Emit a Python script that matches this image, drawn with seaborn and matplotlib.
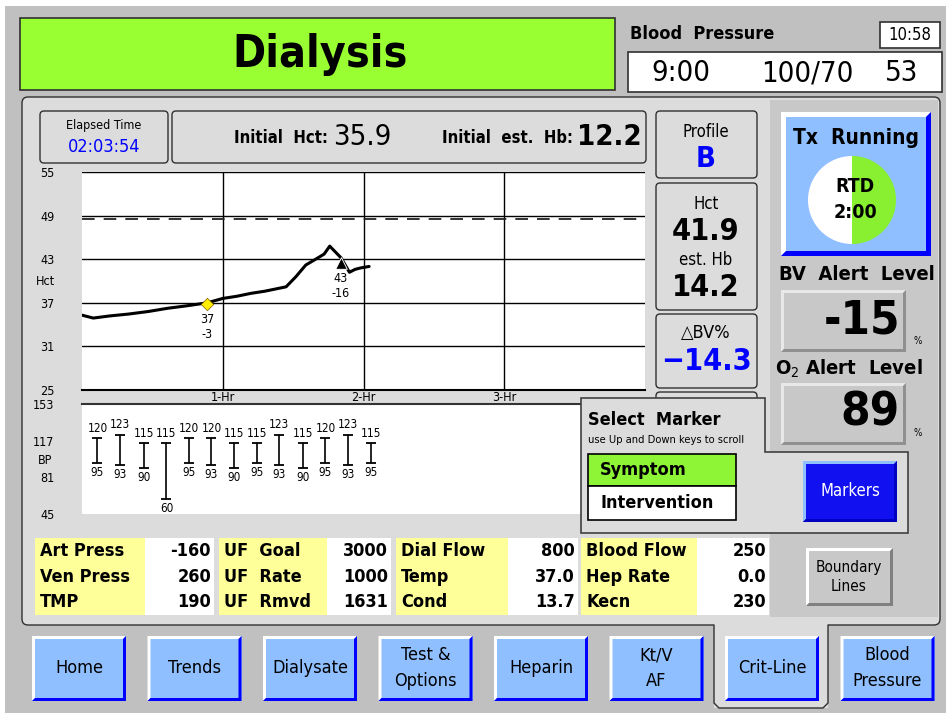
import numpy as np
import pandas as pd
import seaborn as sns
import matplotlib.pyplot as plt
from matplotlib import font_manager as fm
from matplotlib.patches import Rectangle, FancyBboxPatch, Polygon, Wedge

sns.set_style("white")
# the device font is a narrow one; use a condensed face if one is installed
narrow = [f for f in fm.fontManager.ttflist
          if "Narrow" in f.name or "Condensed" in f.name
          or str(f.stretch) in ("condensed", "semi-condensed")]
if narrow:
    plt.rcParams['font.family'] = [narrow[0].name, 'DejaVu Sans']
    plt.rcParams['font.stretch'] = narrow[0].stretch
else:
    plt.rcParams['font.family'] = ['Liberation Sans', 'DejaVu Sans']
plt.rcParams['text.color'] = 'black'
plt.rcParams['xtick.color'] = 'black'
plt.rcParams['ytick.color'] = 'black'

# Hct trend (hours, %)
hct_time = [0.0, 0.08, 0.2, 0.33, 0.47, 0.61, 0.75, 0.89, 1.0, 1.1, 1.2, 1.3,
            1.45, 1.52, 1.59, 1.66, 1.72, 1.76, 1.80, 1.84, 1.90, 1.94, 1.98, 2.04]
hct_vals = [35.3, 34.9, 35.2, 35.45, 35.8, 36.25, 36.6, 37.0, 37.6, 37.9, 38.3, 38.6,
            39.2, 40.6, 42.2, 43.0, 43.7, 44.8, 44.0, 43.2, 41.2, 41.6, 41.8, 42.0]
hct_alert = 48.5
marker_time = [0.89, 1.84]
marker_hct = [36.9, 42.5]
marker_text = ["37\n-3", "43\n-16"]
hct_ticks = [25, 31, 37, 43, 49, 55]
hr_ticks = [1, 2, 3]
hr_labels = ["1-Hr", "2-Hr", "3-Hr"]

# blood pressure readings
bp_time = [0.11, 0.27, 0.44, 0.60, 0.76, 0.92, 1.08, 1.24, 1.40, 1.57, 1.73, 1.89, 2.05]
bp_sys = [120, 123, 115, 115, 120, 120, 115, 115, 123, 115, 120, 123, 115]
bp_dia = [95, 93, 90, 60, 95, 93, 90, 95, 93, 90, 95, 93, 95]
bp_ticks = [45, 81, 117, 153]

# data table
table_labels = [["Art Press", "Ven Press", "TMP"],
                ["UF  Goal", "UF  Rate", "UF  Rmvd"],
                ["Dial Flow", "Temp", "Cond"],
                ["Blood Flow", "Hep Rate", "Kecn"]]
table_values = [["-160", "260", "190"],
                ["3000", "1000", "1631"],
                ["800", "37.0", "13.7"],
                ["250", "0.0", "230"]]
buttons = ["Home", "Trends", "Dialysate", "Test &\nOptions", "Heparin",
           "Kt/V\nAF", "Crit-Line", "Blood\nPressure"]

W, H = 946, 713
fig = plt.figure(figsize=(W / 100, H / 100), dpi=100, facecolor="white")


def frac(x0, y0, x1, y1):
    return [x0 / W, 1 - y1 / H, (x1 - x0) / W, (y1 - y0) / H]


def canvas(z):
    a = fig.add_axes([0, 0, 1, 1], zorder=z)
    a.set_xlim(0, W)
    a.set_ylim(H, 0)
    a.axis("off")
    a.patch.set_alpha(0)
    return a


bg = canvas(0)
top = canvas(5)

GRAY = "#c0c0c0"
PANEL = "#dcdcdc"
DARK = "#303030"
LBLUE = "#8fbfff"
BLUE = "#0000ff"


def rbox(a, x0, y0, x1, y1, fc=PANEL, ec=DARK, lw=1.0, r=4, z=1):
    a.add_patch(FancyBboxPatch((x0, y0), x1 - x0, y1 - y0,
                               boxstyle=f"round,pad=0,rounding_size={r}",
                               fc=fc, ec=ec, lw=lw, zorder=z))


def bevel(a, x0, y0, x1, y1, fc, light, dark, w=3, z=2):
    a.add_patch(Rectangle((x0, y0), x1 - x0, y1 - y0, fc=fc, ec="none", zorder=z))
    a.add_patch(Polygon([(x0, y0), (x1, y0), (x1 - w, y0 + w), (x0 + w, y0 + w),
                         (x0 + w, y1 - w), (x0, y1)], fc=light, ec="none", zorder=z))
    a.add_patch(Polygon([(x1, y1), (x1, y0), (x1 - w, y0 + w), (x1 - w, y1 - w),
                         (x0 + w, y1 - w), (x0, y1)], fc=dark, ec="none", zorder=z))


def txt(a, x, y, s, size, ha="center", va="center", **kw):
    a.text(x, y, s, fontsize=size, ha=ha, va=va, zorder=10, **kw)


# outer background
bg.add_patch(Rectangle((5, 6), W - 5, H - 6, fc=GRAY, ec="none", zorder=0))

# header
bg.add_patch(Rectangle((20, 18), 595, 72, fc="#99ff33", ec=DARK, lw=1.2, zorder=1))
txt(bg, 320, 55, "Dialysis", 32, weight="bold")
txt(bg, 630, 34, "Blood  Pressure", 13, ha="left", weight="bold")
bg.add_patch(Rectangle((880, 22), 60, 26, fc="white", ec=DARK, lw=1.2, zorder=1))
txt(bg, 910, 35, "10:58", 12)
bg.add_patch(Rectangle((628, 52), 314, 40, fc="white", ec=DARK, lw=1.2, zorder=1))
txt(bg, 681, 73, "9:00", 21)
txt(bg, 807, 73, "100/70", 21)
txt(bg, 902, 73, "53", 21)

# main panel + Crit-Line tab
rbox(bg, 22, 97, 940, 625, fc=PANEL, r=6, z=1)
bg.add_patch(Rectangle((714, 619), 114, 89, fc=PANEL, ec="none", zorder=1.1))
bg.plot([714, 714, 719, 823, 828, 828], [625, 703, 708, 708, 703, 625],
        color=DARK, lw=1.0, zorder=1.15)
bg.add_patch(Rectangle((770, 100), 168, 517, fc="#c8c8c8", ec="none", zorder=1.2))

# info boxes
rbox(bg, 40, 111, 168, 163)
txt(bg, 104, 126, "Elapsed Time", 9)
txt(bg, 104, 147, "02:03:54", 13, color=BLUE)
rbox(bg, 172, 111, 646, 163)
txt(bg, 328, 138, "Initial  Hct:", 12, ha="right", weight="bold")
txt(bg, 333, 137, "35.9", 21, ha="left")
txt(bg, 573, 138, "Initial  est.  Hb:", 12, ha="right", weight="bold")
txt(bg, 577, 137, "12.2", 21, ha="left", weight="bold")
rbox(bg, 656, 111, 757, 178)
txt(bg, 706, 132, "Profile", 12)
txt(bg, 706, 159, "B", 21, color=BLUE, weight="bold")
rbox(bg, 656, 183, 757, 310)
txt(bg, 706, 204, "Hct", 12)
txt(bg, 706, 231, "41.9", 22, weight="bold")
txt(bg, 706, 260, "est. Hb", 12)
txt(bg, 706, 287, "14.2", 22, weight="bold")
rbox(bg, 656, 314, 757, 388)
txt(bg, 706, 333, "\u25b3BV%", 13)
txt(bg, 706, 361, "\u221214.3", 22, color=BLUE, weight="bold")
rbox(bg, 656, 392, 757, 440)

# right side: Tx running
bevel(bg, 781, 112, 931, 256, LBLUE, "white", BLUE, w=5)
txt(bg, 856, 138, "Tx  Running", 15, weight="bold")
bg.add_patch(Wedge((852, 200), 44, 90, 270, fc="white", ec="none", zorder=3))
bg.add_patch(Wedge((852, 200), 44, -90, 90, fc="#88f030", ec="none", zorder=3))
txt(bg, 855, 187, "RTD", 14, weight="bold")
txt(bg, 855, 212, "2:00", 14, weight="bold")
txt(bg, 857, 275, "BV  Alert  Level", 14.5, weight="bold")
bevel(bg, 781, 290, 906, 352, "#c8c8c8", "#e8e8e8", "#909090", w=3)
txt(bg, 900, 321, "-15", 34, ha="right", weight="bold")
txt(bg, 918, 341, "%", 7)
txt(bg, 849, 369, "O$_2$ Alert  Level", 14.5, weight="bold")
bevel(bg, 781, 383, 906, 445, "#c8c8c8", "#e8e8e8", "#909090", w=3)
txt(bg, 900, 413, "89", 34, ha="right", weight="bold")
txt(bg, 918, 433, "%", 7)

# data table
table_x = [(35, 145, 214), (219, 327, 391), (396, 508, 578), (581, 697, 769)]
for (x0, xm, x1), labs, vals in zip(table_x, table_labels, table_values):
    bg.add_patch(Rectangle((x0, 538), xm - x0, 77, fc="#ffff99", ec="none", zorder=2))
    bg.add_patch(Rectangle((xm, 538), x1 - xm, 77, fc="white", ec="none", zorder=2))
    for i, (lab, val) in enumerate(zip(labs, vals)):
        y = 551 + i * 25.5
        txt(bg, x0 + 5, y, lab, 13, ha="left", weight="bold")
        txt(bg, x1 - 3, y, val, 13, ha="right", weight="bold")
bevel(bg, 806, 548, 893, 606, "#c8c8c8", "white", "#808080", w=3)
txt(bg, 849, 577, "Boundary\nLines", 11, linespacing=1.4)

# bottom buttons
for i, lab in enumerate(buttons):
    x0 = 32 + i * 115.5
    bevel(bg, x0, 636, x0 + 94, 701, LBLUE, "white", BLUE, w=3)
    txt(bg, x0 + 47, 668, lab, 13, linespacing=1.5)

# Hct chart
ax1 = fig.add_axes(frac(82, 172, 645, 390), zorder=2)
ax1.set_facecolor("white")
df = pd.DataFrame({"t": hct_time, "hct": hct_vals})
sns.lineplot(data=df, x="t", y="hct", ax=ax1, color="black", lw=2.2)
ax1.axhline(hct_alert, color="#222222", lw=1.3, ls=(0, (7, 5)))
sns.scatterplot(x=marker_time[:1], y=marker_hct[:1], ax=ax1, marker="D", s=40,
                color="#ffee00", edgecolor="#806000", zorder=5)
sns.scatterplot(x=marker_time[1:], y=marker_hct[1:], ax=ax1, marker="^", s=70,
                color="black", zorder=5)
for t, v, s in zip(marker_time, marker_hct, marker_text):
    ax1.text(t, v - 1.3, s, ha="center", va="top", fontsize=9, linespacing=1.2)
ax1.set_xlim(0, 4)
ax1.set_ylim(25, 55)
ax1.set_yticks(hct_ticks)
ax1.set_xticks(hr_ticks, hr_labels)
ax1.grid(True, color="black", lw=1.0)
ax1.tick_params(axis="y", length=0, pad=20, labelsize=9)
ax1.tick_params(axis="x", length=0, pad=1, labelsize=9)
ax1.set_xlabel("")
ax1.set_ylabel("")
for s in ["top", "left", "right"]:
    ax1.spines[s].set_visible(False)
ax1.spines["bottom"].set_color("black")
ax1.spines["bottom"].set_linewidth(1.5)
ax1.text(-0.065, 0.50, "Hct", transform=ax1.transAxes, fontsize=9, ha="center", va="center")

# BP chart
ax2 = fig.add_axes(frac(82, 404, 645, 514), zorder=2)
ax2.set_facecolor("white")
ax2.vlines(bp_time, bp_dia, bp_sys, color="black", lw=1.2)
sns.scatterplot(x=bp_time, y=bp_sys, ax=ax2, marker="_", s=50, color="black", linewidth=1.3)
sns.scatterplot(x=bp_time, y=bp_dia, ax=ax2, marker="_", s=50, color="black", linewidth=1.3)
for t, s, d in zip(bp_time, bp_sys, bp_dia):
    ax2.text(t, s + 3, str(s), ha="center", va="bottom", fontsize=8.5)
    ax2.text(t, d - 3, str(d), ha="center", va="top", fontsize=8.5)
ax2.set_xlim(0, 4)
ax2.set_ylim(45, 153)
ax2.set_yticks(bp_ticks)
ax2.set_xticks([])
ax2.tick_params(axis="y", length=0, pad=20, labelsize=9)
for s in ["bottom", "left", "right"]:
    ax2.spines[s].set_visible(False)
ax2.spines["top"].set_color("#333333")
ax2.spines["top"].set_linewidth(1.5)
ax2.text(-0.065, 0.45, "BP", transform=ax2.transAxes, fontsize=9, ha="center")

# select marker popup
top.add_patch(Polygon([(581, 398), (765, 398), (765, 452), (908, 452), (908, 533),
                       (581, 533)], closed=True, fc=PANEL, ec="#404040", lw=1.2, zorder=1))
txt(top, 588, 420, "Select  Marker", 13, ha="left", weight="bold")
txt(top, 588, 440, "use Up and Down keys to scroll", 8, ha="left")
top.add_patch(Rectangle((588, 454), 148, 32, fc="#8ef536", ec="black", lw=1.2, zorder=2))
top.add_patch(Rectangle((588, 486), 148, 34, fc="white", ec="black", lw=1.2, zorder=2))
txt(top, 600, 470, "Symptom", 13, ha="left", weight="bold")
txt(top, 600, 503, "Intervention", 13, ha="left", weight="bold")
bevel(top, 803, 461, 897, 522, "#1010f0", "#8fbfff", "#0000c0", w=3)
txt(top, 850, 491, "Markers", 12, color="white")

fig.savefig("out.png", dpi=100, facecolor="white")
